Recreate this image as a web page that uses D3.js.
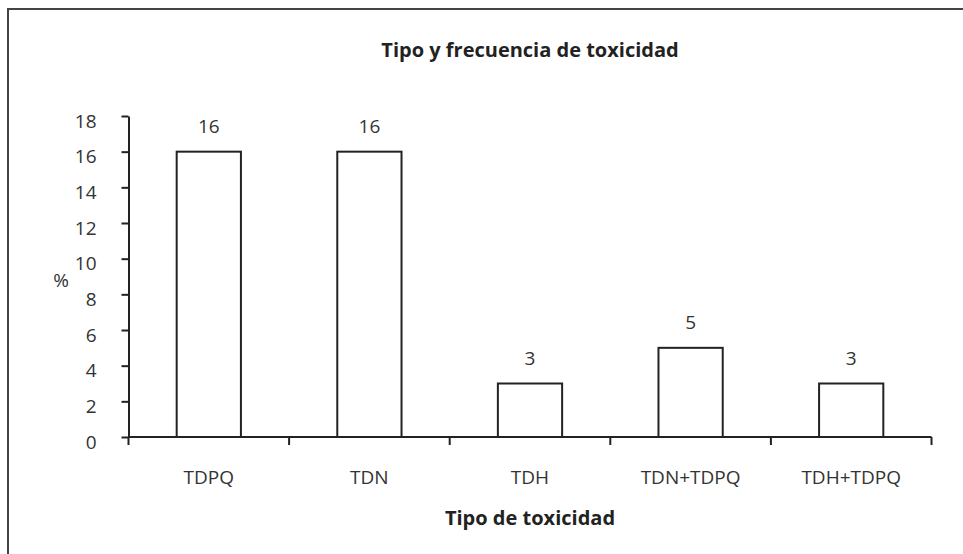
<!DOCTYPE html>
<html>
<head>
<meta charset="utf-8">
<script src="https://cdn.jsdelivr.net/npm/d3@7"></script>
<style>
  body { margin: 0; background: #fff; }
  svg text { font-family: "Open Sans", sans-serif; }
</style>
</head>
<body>
<div id="chart"></div>
<script>
// Tipo y frecuencia de toxicidad - bar chart

var categories = ["TDPQ", "TDN", "TDH", "TDN+TDPQ", "TDH+TDPQ"];
var values = [16, 16, 3, 5, 3];
var yTicks = [0, 2, 4, 6, 8, 10, 12, 14, 16, 18];

var width = 963, height = 554;
var plotLeft = 128.5, plotRight = 931.5, plotTop = 116, plotBottom = 437;
var fontSize = 19, titleSize = 20;

var svg = d3.select("#chart").append("svg")
    .attr("width", width)
    .attr("height", height);

// frame
svg.append("rect")
    .attr("x", 8).attr("y", 9)
    .attr("width", 980).attr("height", 600)
    .attr("fill", "none")
    .attr("stroke", "#444")
    .attr("stroke-width", 2);

var x = d3.scaleBand()
    .domain(categories)
    .range([plotLeft, plotRight])
    .paddingInner(0.6)
    .paddingOuter(0.3);

var y = d3.scaleLinear()
    .domain([0, 18])
    .range([plotBottom, plotTop]);

// bars
svg.selectAll(".bar")
    .data(values)
  .enter().append("rect")
    .attr("class", "bar")
    .attr("x", function(d, i) { return x(categories[i]); })
    .attr("y", function(d) { return y(d); })
    .attr("width", x.bandwidth())
    .attr("height", function(d) { return y(0) - y(d); })
    .attr("fill", "#fff")
    .attr("stroke", "#222")
    .attr("stroke-width", 2);

// value labels
svg.selectAll(".val")
    .data(values)
  .enter().append("text")
    .attr("class", "val")
    .attr("x", function(d, i) { return x(categories[i]) + x.bandwidth() / 2; })
    .attr("y", function(d) { return y(d) - 19; })
    .attr("text-anchor", "middle")
    .attr("font-size", fontSize)
    .attr("fill", "#333")
    .text(function(d) { return d; });

// y axis
var yAxis = d3.axisLeft(y)
    .tickValues(yTicks)
    .tickSize(7)
    .tickSizeOuter(0)
    .tickPadding(25);

var gy = svg.append("g")
    .attr("transform", "translate(" + plotLeft + ",0)")
    .call(yAxis);
gy.select(".domain").attr("stroke", "#222").attr("stroke-width", 2);
gy.selectAll(".tick line").attr("stroke", "#222").attr("stroke-width", 2);
gy.selectAll(".tick text")
    .attr("font-size", fontSize)
    .attr("fill", "#333")
    .attr("y", 5)
    .style("font-family", "Open Sans, sans-serif");

// x axis line and boundary ticks
var step = x.step();
var gap = step - x.bandwidth();
var bounds = categories.map(function(c) { return x(c) - gap / 2; });
bounds.push(x(categories[categories.length - 1]) + x.bandwidth() + gap / 2);

svg.append("line")
    .attr("x1", plotLeft).attr("x2", plotRight)
    .attr("y1", y(0)).attr("y2", y(0))
    .attr("stroke", "#222")
    .attr("stroke-width", 2);

svg.selectAll(".xtick")
    .data(bounds)
  .enter().append("line")
    .attr("x1", function(d) { return d; })
    .attr("x2", function(d) { return d; })
    .attr("y1", y(0))
    .attr("y2", y(0) + 8)
    .attr("stroke", "#222")
    .attr("stroke-width", 2);

svg.selectAll(".xlab")
    .data(categories)
  .enter().append("text")
    .attr("x", function(d) { return x(d) + x.bandwidth() / 2; })
    .attr("y", 484)
    .attr("text-anchor", "middle")
    .attr("font-size", fontSize)
    .attr("fill", "#333")
    .text(function(d) { return d; });

// titles
svg.append("text")
    .attr("x", (plotLeft + plotRight) / 2)
    .attr("y", 57)
    .attr("text-anchor", "middle")
    .attr("font-size", titleSize)
    .attr("font-weight", "bold")
    .attr("fill", "#222")
    .text("Tipo y frecuencia de toxicidad");

svg.append("text")
    .attr("x", (plotLeft + plotRight) / 2)
    .attr("y", 525)
    .attr("text-anchor", "middle")
    .attr("font-size", titleSize)
    .attr("font-weight", "bold")
    .attr("fill", "#222")
    .text("Tipo de toxicidad");

svg.append("text")
    .attr("x", 61)
    .attr("y", 287)
    .attr("text-anchor", "middle")
    .attr("font-size", fontSize)
    .attr("fill", "#333")
    .text("%");
</script>
</body>
</html>
